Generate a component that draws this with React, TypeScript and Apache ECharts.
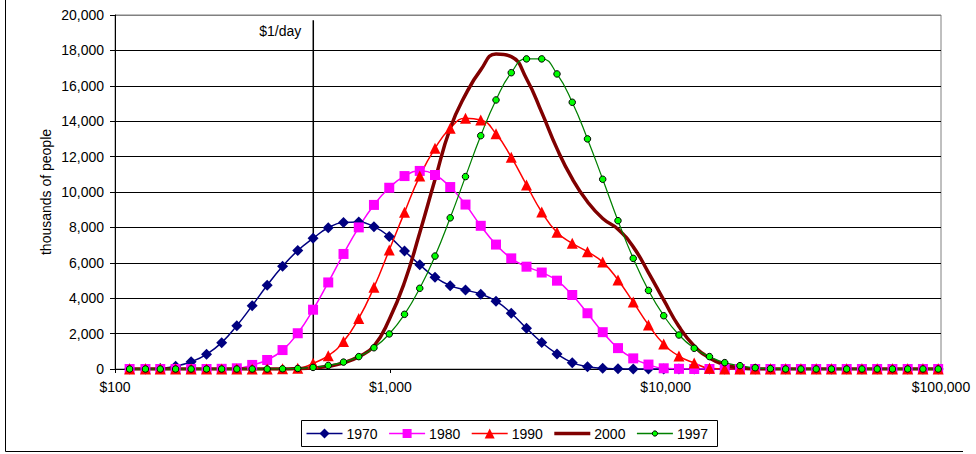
import React, { useEffect, useRef } from "react";
import * as echarts from "echarts";

// Annual income (USD, log scale) at which each distribution is sampled
const incomes = [
  113, 129, 146, 166, 189, 215, 244, 277, 315, 357,
  406, 461, 524, 595, 676, 768, 872, 991, 1126, 1279,
  1453, 1650, 1875, 2130, 2420, 2749, 3123, 3547, 4030, 4578,
  5200, 5907, 6711, 7624, 8660, 9838, 11176, 12696, 14423, 16384,
  18613, 21144, 24020, 27286, 30997, 35213, 40002, 45443, 51623, 58644,
  66619, 75680, 85972, 97665,
];

// Thousands of people at each income level
const pop1970 = [
  0, 0, 30, 150, 410, 830, 1490, 2450, 3580, 4730,
  5800, 6690, 7380, 7980, 8270, 8300, 8040, 7480, 6670, 5890,
  5180, 4710, 4460, 4230, 3830, 3150, 2300, 1500, 850, 360,
  130, 40, 10, 0, 0, 0, 0, 0, 0, 0,
  0, 0, 0, 0, 0, 0, 0, 0, 0, 0,
  0, 0, 0, 0,
];
const pop1980 = [
  0, 0, 0, 0, 0, 0, 10, 40, 230, 510,
  1070, 2020, 3350, 4890, 6500, 8000, 9270, 10240, 10900, 11190,
  10960, 10280, 9290, 8090, 7030, 6250, 5780, 5450, 4990, 4180,
  3150, 2080, 1180, 600, 250, 40, 10, 0, 0, 0,
  0, 0, 0, 0, 0, 0, 0, 0, 0, 0,
  0, 0, 0, 0,
];
const pop1990 = [
  0, 0, 0, 0, 0, 0, 0, 0, 0, 0,
  10, 40, 320, 750, 1550, 2860, 4620, 6720, 8850, 10900,
  12470, 13600, 14160, 14070, 13290, 11970, 10400, 8870, 7720, 7100,
  6630, 6040, 5030, 3780, 2490, 1410, 730, 340, 40, 0,
  0, 0, 0, 0, 0, 0, 0, 0, 0, 0,
  0, 0, 0, 0,
];
const pop2000 = [
  0, 0, 0, 0, 0, 0, 0, 0, 0, 0,
  0, 20, 60, 150, 350, 700, 1300, 2800, 4900, 7700,
  10700, 13600, 15500, 16900, 17800, 17650, 16400, 14500, 12450, 10750,
  9450, 8500, 7900, 6900, 5450, 3900, 2400, 1300, 620, 240,
  60, 0, 0, 0, 0, 0, 0, 0, 0, 0,
  0, 0, 0, 0,
];
const pop1997 = [
  0, 0, 0, 0, 0, 0, 0, 0, 0, 0,
  10, 30, 90, 200, 390, 700, 1200, 1980, 3090, 4560,
  6380, 8540, 10870, 13180, 15200, 16740, 17520, 17520, 16670, 15070,
  13000, 10720, 8380, 6250, 4440, 3010, 1920, 1170, 700, 360,
  190, 70, 20, 0, 0, 0, 0, 0, 0, 0,
  0, 0, 0, 0,
];

// $1/day poverty line (annual income) and the height its marker line reaches
const povertyLine = 525;
const povertyLineTop = 19700;
const povertyLabel = "$1/day";

const xTicks = [100, 1000, 10000, 100000];
const yMax = 20000;
const yStep = 2000;

const FONT = '"Liberation Sans", Arial, Helvetica, sans-serif';

type SeriesDef = {
  name: string;
  values: number[];
  line: string;
  lineWidth: number;
  symbol: "diamond" | "rect" | "triangle" | "circle" | "none";
  symbolSize: number;
  fill: string;
  border?: string;
};

const seriesDefs: SeriesDef[] = [
  { name: "1970", values: pop1970, line: "#000080", lineWidth: 1.5, symbol: "diamond", symbolSize: 11, fill: "#000080" },
  { name: "1980", values: pop1980, line: "#FF00FF", lineWidth: 1.5, symbol: "rect", symbolSize: 10, fill: "#FF00FF" },
  { name: "1990", values: pop1990, line: "#FF0000", lineWidth: 1.5, symbol: "triangle", symbolSize: 11, fill: "#FF0000" },
  { name: "2000", values: pop2000, line: "#800000", lineWidth: 3.5, symbol: "none", symbolSize: 0, fill: "#800000" },
  { name: "1997", values: pop1997, line: "#008000", lineWidth: 1.25, symbol: "circle", symbolSize: 6.5, fill: "#00FF00", border: "#000000" },
];

const fmtThousands = (v: number) => Math.round(v).toLocaleString("en-US");

function legendSymbol(def: SeriesDef, cx: number, cy: number): any[] {
  const style = { fill: def.fill, stroke: def.border ?? null, lineWidth: def.border ? 1 : 0 };
  switch (def.symbol) {
    case "diamond":
      return [{ type: "polygon", shape: { points: [[cx, cy - 5], [cx + 5, cy], [cx, cy + 5], [cx - 5, cy]] }, style }];
    case "rect":
      return [{ type: "rect", shape: { x: cx - 4.5, y: cy - 4.5, width: 9, height: 9 }, style }];
    case "triangle":
      return [{ type: "polygon", shape: { points: [[cx, cy - 5], [cx + 5, cy + 5], [cx - 5, cy + 5]] }, style }];
    case "circle":
      return [{ type: "circle", shape: { cx, cy, r: 2.6 }, style }];
    default:
      return [];
  }
}

function buildLegend(): any[] {
  const out: any[] = [];
  const boxX = 301.5;
  const boxY = 420.5;
  const boxW = 416;
  const boxH = 26;
  out.push({ type: "rect", shape: { x: boxX, y: boxY, width: boxW, height: boxH }, style: { fill: "#fff", stroke: "#000", lineWidth: 1 } });
  const cy = boxY + boxH / 2;
  const startX = 306.5;
  const step = 82.6;
  const lineLen = 36;
  seriesDefs.forEach((def, i) => {
    const x0 = startX + i * step;
    out.push({
      type: "line",
      shape: { x1: x0, y1: cy, x2: x0 + lineLen, y2: cy },
      style: { stroke: def.line, lineWidth: def.symbol === "none" ? 3.5 : 1.5 },
    });
    out.push(...legendSymbol(def, x0 + lineLen / 2, cy));
    out.push({
      type: "text",
      x: x0 + lineLen + 4,
      y: cy + 0.5,
      style: { text: def.name, font: `14px ${FONT}`, fill: "#000", verticalAlign: "middle" },
    });
  });
  return out;
}

export default function App() {
  const ref = useRef<HTMLDivElement>(null);

  useEffect(() => {
    const el = ref.current;
    if (!el) return;
    const chart = echarts.init(el, null, { renderer: "svg" });

    // horizontal gridlines are black; the top one is the grey plot frame
    const gridLineColors: string[] = [];
    for (let v = 0; v <= yMax; v += yStep) gridLineColors.push(v === yMax ? "#808080" : "#000000");

    const series: any[] = [
      {
        name: povertyLabel,
        type: "line",
        data: [[povertyLine, 0], [povertyLine, povertyLineTop]],
        symbol: "none",
        silent: true,
        lineStyle: { color: "#000", width: 1.5 },
        z: 1,
      },
      ...seriesDefs.map((def) => ({
        name: def.name,
        type: "line",
        smooth: true,
        data: incomes.map((x, i) => [x, def.values[i]]),
        symbol: def.symbol,
        symbolSize: def.symbolSize,
        showSymbol: def.symbol !== "none",
        showAllSymbol: true,
        lineStyle: { color: def.line, width: def.lineWidth },
        itemStyle: {
          color: def.fill,
          borderColor: def.border ?? def.fill,
          borderWidth: def.border ? 1 : 0,
        },
        emphasis: { disabled: true },
        z: 2,
      })),
    ];

    chart.setOption({
      animation: false,
      backgroundColor: "#ffffff",
      textStyle: { fontFamily: FONT },
      grid: {
        left: 115,
        top: 15,
        width: 826,
        height: 354,
        show: true,
        borderColor: "#808080",
        borderWidth: 1,
        backgroundColor: "transparent",
        containLabel: false,
      },
      xAxis: {
        type: "log",
        logBase: 10,
        min: xTicks[0],
        max: xTicks[xTicks.length - 1],
        axisLine: { show: true, lineStyle: { color: "#000", width: 1 } },
        axisTick: { show: true, length: 4, lineStyle: { color: "#000" } },
        minorTick: { show: false },
        splitLine: { show: false },
        axisLabel: {
          fontSize: 14,
          color: "#000",
          fontFamily: FONT,
          margin: 11,
          formatter: (v: number) => "$" + fmtThousands(v),
        },
      },
      yAxis: {
        type: "value",
        min: 0,
        max: yMax,
        interval: yStep,
        axisLine: { show: true, lineStyle: { color: "#000", width: 1 } },
        axisTick: { show: true, length: 5, lineStyle: { color: "#000" } },
        splitLine: { show: true, lineStyle: { color: gridLineColors, width: 1 } },
        axisLabel: {
          fontSize: 14,
          color: "#000",
          fontFamily: FONT,
          margin: 11,
          formatter: (v: number) => fmtThousands(v),
        },
      },
      series,
    });

    const top = chart.convertToPixel({ gridIndex: 0 }, [povertyLine, povertyLineTop]) as number[];
    const plotMidY = 15 + 354 / 2;

    chart.setOption({
      graphic: [
        // chart area frame (left and bottom edges)
        { type: "line", shape: { x1: 5.5, y1: 0, x2: 5.5, y2: 451.5 }, style: { stroke: "#000", lineWidth: 1 } },
        { type: "line", shape: { x1: 5.5, y1: 451.5, x2: 963, y2: 451.5 }, style: { stroke: "#000", lineWidth: 1 } },
        {
          type: "text",
          x: 46,
          y: plotMidY,
          rotation: Math.PI / 2,
          style: { text: "thousands of people", font: `14px ${FONT}`, fill: "#000", align: "center", verticalAlign: "middle" },
        },
        {
          type: "text",
          x: top[0] - 12,
          y: top[1] + 11,
          style: { text: povertyLabel, font: `14px ${FONT}`, fill: "#000", align: "right", verticalAlign: "middle" },
        },
        ...buildLegend(),
      ],
    });

    return () => chart.dispose();
  }, []);

  return (
    <div
      ref={ref}
      style={{ position: "fixed", left: 0, top: 0, width: 976, height: 454, background: "#fff" }}
    />
  );
}
